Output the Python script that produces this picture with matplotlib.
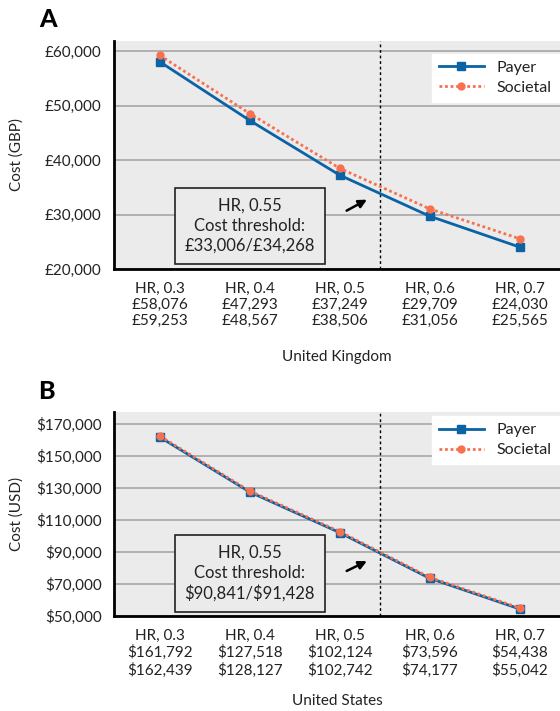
import matplotlib.pyplot as plt

hr = ["0.3", "0.4", "0.5", "0.6", "0.7"]
uk_payer = [58076, 47293, 37249, 29709, 24030]
uk_societal = [59253, 48567, 38506, 31056, 25565]
us_payer = [161792, 127518, 102124, 73596, 54438]
us_societal = [162439, 128127, 102742, 74177, 55042]

uk_yticks = [20000, 30000, 40000, 50000, 60000]
us_yticks = [50000, 70000, 90000, 110000, 130000, 150000, 170000]

plt.rcParams['font.family'] = ['Lato', 'DejaVu Sans']
plt.rcParams['text.parse_math'] = False
TXT = '#222222'
BLUE = '#0b62a4'
CORAL = '#f8714f'
FS = 11


def draw_panel(ax, payer, societal, cur, yticks, ylim, ylabel, xlabel, note,
               box_y, arrow_y, leg_y, xpad):
    x = range(len(hr))
    ax.set_facecolor('#ebebeb')
    for y in yticks:
        ax.axhline(y, color='#a6a6a6', lw=1.2, zorder=1)
    ax.plot(x, payer, color=BLUE, lw=2, marker='s', ms=6, label='Payer', zorder=3)
    ax.plot(x, societal, color=CORAL, lw=2, ls=(0, (1, 1)), marker='o', ms=5,
            label='Societal', zorder=4)
    ax.axvline(2.45, color='black', lw=1, ls=(0, (2, 2)), zorder=2)
    ax.set_xlim(-0.51, 4.45)
    ax.set_ylim(*ylim)
    ax.set_yticks(yticks)
    ax.set_yticklabels([cur + f"{v:,}" for v in yticks], fontsize=FS, color=TXT)
    labels = [f"HR, {h}\n{cur}{p:,}\n{cur}{s:,}" for h, p, s in zip(hr, payer, societal)]
    ax.set_xticks(list(x))
    ax.set_xticklabels(labels, fontsize=FS, color=TXT, linespacing=1.2)
    ax.tick_params(axis='x', length=0, pad=9)
    ax.tick_params(axis='y', length=0, pad=9)
    ax.set_ylabel(ylabel, fontsize=FS, color=TXT)
    ax.yaxis.set_label_coords(-0.202, 0.5)
    ax.set_xlabel(xlabel, fontsize=FS, color=TXT, labelpad=xpad)
    for s in ['top', 'right']:
        ax.spines[s].set_visible(False)
    for s in ['left', 'bottom']:
        ax.spines[s].set_linewidth(2)
        ax.spines[s].set_color('black')
    tr = ax.get_xaxis_transform()
    ax.text(1.0, box_y, note, transform=tr, ha='center', va='center',
            fontsize=FS + 1, color=TXT, linespacing=1.3, zorder=5,
            bbox=dict(boxstyle='square,pad=0.6', fc='#ebebeb', ec='#222222', lw=1.2))
    ax.annotate('', xy=(2.33, arrow_y + 0.06), xytext=(2.05, arrow_y),
                xycoords=tr, textcoords=tr,
                arrowprops=dict(arrowstyle='-|>', color='black', lw=1.8,
                                mutation_scale=12), zorder=5)
    leg = ax.legend(loc='upper right', fontsize=FS + 0.5, frameon=True, fancybox=False,
                    borderaxespad=0, handlelength=2.8, labelspacing=0.35,
                    borderpad=0.45, bbox_to_anchor=(0.997, leg_y))
    leg.get_frame().set_edgecolor('white')
    leg.get_frame().set_facecolor('white')
    leg.get_frame().set_alpha(1)
    for t in leg.get_texts():
        t.set_color(TXT)


fig = plt.figure(figsize=(5.6, 7.11), dpi=100)
ax1 = fig.add_axes([0.2036, 0.6217, 0.7964, 0.3206])
ax2 = fig.add_axes([0.2036, 0.1336, 0.7964, 0.2869])

draw_panel(ax1, uk_payer, uk_societal, '£', uk_yticks, (20000, 61900),
           'Cost (GBP)', 'United Kingdom', 'HR, 0.55\nCost threshold:\n£33,006/£34,268',
           0.19, 0.25, 0.945, 16)
draw_panel(ax2, us_payer, us_societal, '$', us_yticks, (50000, 177500),
           'Cost (USD)', 'United States', 'HR, 0.55\nCost threshold:\n$90,841/$91,428',
           0.21, 0.215, 0.98, 12)

fig.text(0.07, 0.972, 'A', fontsize=18, fontweight='black', va='center')
fig.text(0.068, 0.449, 'B', fontsize=18, fontweight='black', va='center')

fig.savefig('out.png', dpi=100)
